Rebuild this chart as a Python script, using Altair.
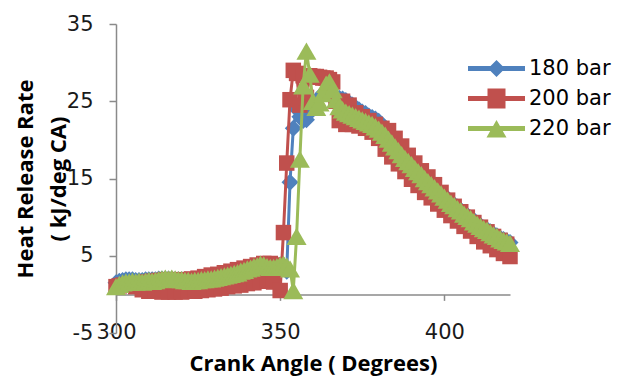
import altair as alt
import pandas as pd

angles = list(range(300, 421))

series_names = ["180 bar", "200 bar", "220 bar"]
colors = ["#4F81BD", "#C0504D", "#9BBB59"]

hrr_180 = [
    1.5, 1.7, 1.8, 1.9, 1.9, 1.9, 1.8, 1.8, 1.8, 1.9,
    1.9, 1.9, 1.9, 2.0, 2.0, 2.0, 2.0, 2.0, 1.9, 1.9,
    1.9, 1.9, 1.8, 1.8, 1.8, 1.9, 1.9, 2.0, 2.1, 2.1,
    2.2, 2.3, 2.4, 2.5, 2.6, 2.7, 2.8, 3.0, 3.1, 3.2,
    3.4, 3.5, 3.6, 3.8, 3.9, 3.9, 3.8, 3.7, 3.6, 3.7,
    3.8, 3.7, 3.0, 14.5, 21.5, 24.0, 23.0, 22.5, 22.6, 23.5,
    24.5, 25.0, 25.5, 26.0, 26.0, 25.8, 25.6, 25.5, 25.4, 25.3,
    25.1, 24.8, 24.5, 24.2, 23.9, 23.6, 23.4, 23.1, 22.9, 22.7,
    22.4, 22.0, 21.5, 20.8, 20.1, 19.5, 19.0, 18.4, 17.9, 17.4,
    17.0, 16.5, 16.1, 15.7, 15.2, 14.8, 14.4, 14.0, 13.6, 13.2,
    12.8, 12.4, 12.0, 11.6, 11.3, 10.9, 10.6, 10.2, 9.9, 9.6,
    9.2, 8.9, 8.6, 8.4, 8.1, 7.8, 7.6, 7.3, 7.1, 6.9,
    6.7,
]

hrr_200 = [
    1.0, 1.1, 1.2, 1.2, 1.3, 1.2, 1.0, 1.4, 0.6, 1.6,
    0.4, 1.7, 0.4, 1.8, 0.3, 1.9, 0.3, 1.9, 0.3, 1.9,
    0.3, 1.9, 0.4, 2.0, 0.4, 2.1, 0.5, 2.3, 0.6, 2.5,
    0.7, 2.6, 0.8, 2.8, 1.0, 3.0, 1.1, 3.2, 1.2, 3.4,
    1.4, 3.6, 1.5, 3.8, 1.7, 4.0, 1.8, 4.0, 1.6, 3.8,
    0.5, 8.0, 17.0, 25.2, 29.0, 28.6, 24.5, 28.3, 25.5, 28.3,
    28.2, 28.2, 28.1, 28.0, 28.0, 27.8, 27.5, 25.0, 22.5, 25.0,
    22.0, 24.5, 22.0, 23.5, 21.8, 23.0, 21.5, 22.5, 21.0, 22.0,
    20.2, 21.5, 18.8, 21.2, 17.8, 20.2, 16.9, 19.2, 15.9, 18.0,
    14.9, 17.0, 14.1, 16.0, 13.2, 15.2, 12.5, 14.2, 11.7, 13.2,
    10.9, 12.2, 10.2, 11.4, 9.5, 10.7, 8.8, 10.0, 8.2, 9.3,
    7.5, 8.7, 6.8, 8.1, 6.3, 7.5, 5.8, 7.0, 5.3, 6.5,
    4.9,
]

hrr_220 = [
    1.0, 1.3, 1.5, 1.6, 1.6, 1.7, 1.6, 1.7, 1.6, 1.7,
    1.8, 1.7, 1.8, 1.9, 2.0, 2.1, 2.0, 2.1, 2.0, 1.9,
    1.9, 1.8, 1.8, 1.7, 1.8, 1.8, 1.9, 1.9, 2.0, 2.0,
    2.1, 2.2, 2.3, 2.4, 2.5, 2.6, 2.7, 2.8, 3.0, 3.1,
    3.3, 3.4, 3.6, 3.7, 3.9, 3.8, 3.6, 3.5, 3.5, 3.6,
    3.8, 3.9, 3.7, 3.3, 0.5, 7.5, 17.5, 27.0, 31.5, 28.5,
    25.0, 24.2, 24.8, 26.0, 27.2, 27.5, 26.5, 25.2, 24.3, 23.9,
    23.6, 23.4, 23.2, 23.0, 22.8, 22.6, 22.4, 22.2, 22.0, 21.7,
    21.4, 21.0, 20.6, 20.1, 19.6, 19.1, 18.6, 18.1, 17.6, 17.2,
    16.8, 16.3, 15.9, 15.5, 15.0, 14.6, 14.2, 13.8, 13.4, 13.0,
    12.6, 12.2, 11.8, 11.5, 11.1, 10.8, 10.4, 10.1, 9.8, 9.4,
    9.1, 8.8, 8.5, 8.3, 8.0, 7.7, 7.5, 7.2, 7.0, 6.8,
    6.6,
]

x_ticks = [300, 350, 400]
y_ticks = [-5, 5, 15, 25, 35]

plot_shapes = ["diamond", "square", "triangle-up"]
plot_sizes = [289, 240, 400]

# legend symbols (line + marker); path units are scaled by sqrt(size)/2 = 10 px
legend_paths = [
    "M-2.85,-0.25 L2.85,-0.25 L2.85,0.25 L-2.85,0.25 Z M-0.85,0 L0,-0.85 L0.85,0 L0,0.85 Z",
    "M-2.85,-0.25 L2.85,-0.25 L2.85,0.25 L-2.85,0.25 Z M-0.9,-1.0 L0.9,-1.0 L0.9,1.0 L-0.9,1.0 Z",
    "M-2.85,-0.25 L2.85,-0.25 L2.85,0.25 L-2.85,0.25 Z M0,-0.85 L1.0,0.9 L-1.0,0.9 Z",
]

rows = []
for name, vals in zip(series_names, [hrr_180, hrr_200, hrr_220]):
    for a, v in zip(angles, vals):
        rows.append({"angle": a, "hrr": v, "series": name})
df = pd.DataFrame(rows)

W, H = 394, 309
AX = "#8a8a8a"

x_axis = alt.Axis(
    values=x_ticks, grid=False, offset=-H * 5 / 40, labelFlush=False,
    domainColor=AX, domainWidth=1.5, tickColor=AX, tickWidth=1.5, tickSize=6,
    labelFont="DejaVu Sans", labelFontSize=21, labelColor="#1a1a1a", labelPadding=21,
    title="Crank Angle ( Degrees)", titleFont="Open Sans", titleFontWeight="bold",
    titleFontSize=22, titleColor="#000000", titleX=W / 2, titleY=76,
    titleAlign="center", titleBaseline="alphabetic",
)
y_axis = alt.Axis(
    values=y_ticks, grid=False, labelExpr="'' + datum.value",
    domainColor=AX, domainWidth=1.5, tickColor=AX, tickWidth=1.5, tickSize=7,
    labelFont="DejaVu Sans", labelFontSize=21, labelColor="#1a1a1a", labelPadding=16,
    labelAlign="right",
    title=["Heat Release Rate", "( kJ/deg CA)"], titleFont="Open Sans",
    titleFontWeight="bold", titleFontSize=22, titleColor="#000000",
    titleAngle=270, titleX=-91, titleY=H / 2, titleAlign="center",
    titleBaseline="middle", titleLineHeight=33,
)

x_enc = alt.X("angle:Q", scale=alt.Scale(domain=[300, 420], nice=False, zero=False), axis=x_axis)
y_enc = alt.Y("hrr:Q", scale=alt.Scale(domain=[-5, 35], nice=False, zero=False), axis=y_axis)

legend = alt.Legend(
    title=None, orient="none", legendX=370, legendY=34,
    symbolSize=400, symbolOpacity=1, symbolStrokeWidth=0,
    labelFont="DejaVu Sans", labelFontSize=21, labelColor="#000000",
    labelOffset=22, rowPadding=8, padding=0,
)

base = alt.Chart(df)
layers = [
    base.mark_point(filled=True, opacity=0).encode(
        x=x_enc, y=y_enc,
        color=alt.Color("series:N", scale=alt.Scale(domain=series_names, range=colors), legend=legend),
        shape=alt.Shape("series:N", scale=alt.Scale(domain=series_names, range=legend_paths), legend=legend),
    )
]
for i, name in enumerate(series_names):
    sub = base.transform_filter(alt.datum.series == name)
    layers.append(sub.mark_line(color=colors[i], strokeWidth=3).encode(x=x_enc, y=y_enc))
    layers.append(
        sub.mark_point(shape=plot_shapes[i], filled=True, size=plot_sizes[i],
                       color=colors[i], opacity=1, strokeWidth=0).encode(x=x_enc, y=y_enc)
    )

chart = alt.layer(*layers).properties(
    width=W, height=H,
    padding={"left": 116, "top": 24, "right": 620 - 116 - W, "bottom": 376 - 24 - H},
    autosize=alt.AutoSizeParams(type="none"),
).configure_view(stroke=None)

chart.save("out.html", embed_options={"renderer": "svg", "actions": False})
